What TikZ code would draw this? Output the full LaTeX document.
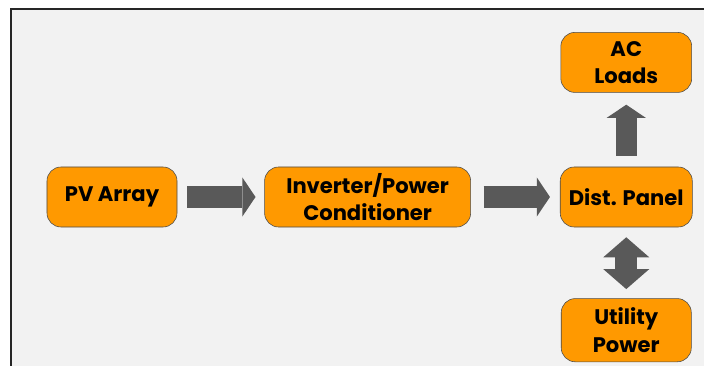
\documentclass[tikz,border=0pt]{standalone}
\usepackage{fontspec}
\setmainfont{Poppins}
\usetikzlibrary{positioning,arrows.meta}
\definecolor{panelgrey}{RGB}{242,242,242}
\definecolor{amber}{RGB}{255,153,0}
\definecolor{slate}{RGB}{89,89,89}

\begin{document}
\begin{tikzpicture}[x=0.025cm,y=-0.025cm,
    box/.style={draw=black!70,fill=amber,rounded corners=0.35cm,align=center,
      font=\fontsize{15}{19.5}\selectfont\bfseries,inner sep=0pt,minimum height=1.5cm},
    flow/.style={slate,line width=0.53cm,
      -{Triangle[length=0.33cm,width=0.98cm,line width=0pt]}},
    both/.style={slate,line width=0.55cm,
      {Triangle[length=0.5cm,width=1.15cm,line width=0pt]}-{Triangle[length=0.5cm,width=1.15cm,line width=0pt]}}]
    \useasboundingbox (0,0) rectangle (704,366);
    \clip (0,0) rectangle (704,366);
    \filldraw[fill=panelgrey,draw=black!85,line width=0.06cm] (11,9) rectangle (730,390);
    \node[box,minimum width=3.25cm] (pv) at (112,197) {PV Array};
    \node[box,minimum width=5.15cm,right=2.175cm of pv] (inv) {Inverter/Power\\Conditioner};
    \node[box,minimum width=3.3cm,right=2.225cm of inv] (dist) {Dist. Panel};
    \node[box,minimum width=3.27cm,above=1.85cm of dist] (ac) {AC\\Loads};
    \node[box,minimum width=3.25cm,minimum height=1.58cm,below=1.775cm of dist] (util) {Utility\\Power};
    \draw[flow,shorten <=0.25cm,shorten >=0.22cm] (pv) -- (inv);
    \draw[flow,shorten <=0.32cm,shorten >=0.25cm] (inv) -- (dist);
    \draw[flow,shorten <=0.28cm,shorten >=0.3cm] (dist) -- (ac);
    \draw[both,shorten <=0.25cm,shorten >=0.23cm] (dist) -- (util);
\end{tikzpicture}
\end{document}
